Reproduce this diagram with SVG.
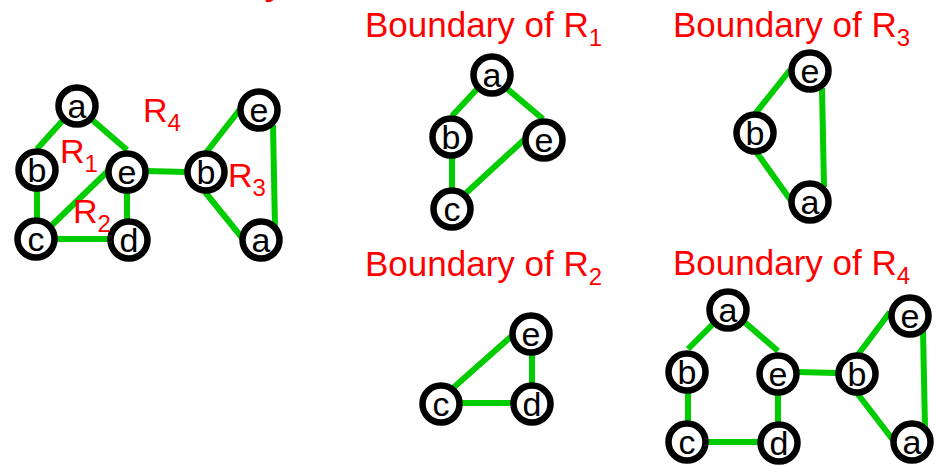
<svg xmlns="http://www.w3.org/2000/svg" width="940" height="466" viewBox="0 0 940 466">
<style>
.edge{stroke:#00cc00;stroke-width:6;fill:none;stroke-linecap:butt}
.node circle{fill:#ffffff;stroke:#000000;stroke-width:6.5}
.node text{font-family:"Liberation Sans",Arial,sans-serif;font-size:34px;fill:#000000;text-anchor:middle}
.lbl{font-family:"Liberation Sans",Arial,sans-serif;font-size:34px;fill:#ff0000}
.title{font-size:35px}
.sub{font-size:24px}
</style>
<rect width="940" height="466" fill="#ffffff"/>
<text class="lbl" x="264" y="-5" font-weight="bold">y</text>
<g id="connectors">
  <!-- main graph -->
  <line class="edge" x1="37" y1="149" x2="65" y2="118"/>
  <line class="edge" x1="90" y1="118" x2="127" y2="150"/>
  <line class="edge" x1="37" y1="188" x2="37" y2="221"/>
  <line class="edge" x1="50" y1="227" x2="109" y2="170"/>
  <line class="edge" x1="55" y1="239" x2="109" y2="239"/>
  <line class="edge" x1="127" y1="192" x2="127" y2="221"/>
  <line class="edge" x1="146" y1="171" x2="186" y2="172"/>
  <line class="edge" x1="205" y1="154" x2="241" y2="108"/>
  <line class="edge" x1="205" y1="192" x2="243" y2="239"/>
  <line class="edge" x1="273" y1="125" x2="275" y2="228"/>
  <!-- R1 -->
  <line class="edge" x1="478" y1="88" x2="452" y2="116"/>
  <line class="edge" x1="505" y1="87" x2="543" y2="119"/>
  <line class="edge" x1="452" y1="156" x2="452" y2="190"/>
  <line class="edge" x1="465" y1="194" x2="526" y2="138"/>
  <!-- R3 -->
  <line class="edge" x1="790" y1="70" x2="755" y2="114"/>
  <line class="edge" x1="757" y1="153" x2="792" y2="202"/>
  <line class="edge" x1="822" y1="88" x2="824" y2="187"/>
  <!-- R2 -->
  <line class="edge" x1="453" y1="388" x2="514" y2="334"/>
  <line class="edge" x1="460" y1="403" x2="512" y2="403"/>
  <line class="edge" x1="532" y1="354" x2="532" y2="384"/>
  <!-- R4 -->
  <line class="edge" x1="715" y1="322" x2="688" y2="349"/>
  <line class="edge" x1="742" y1="320" x2="778" y2="351"/>
  <line class="edge" x1="688" y1="390" x2="688" y2="423"/>
  <line class="edge" x1="778" y1="393" x2="778" y2="423"/>
  <line class="edge" x1="707" y1="442" x2="759" y2="442"/>
  <line class="edge" x1="797" y1="372" x2="836" y2="373"/>
  <line class="edge" x1="857" y1="356" x2="890" y2="312"/>
  <line class="edge" x1="857" y1="393" x2="893" y2="440"/>
  <line class="edge" x1="923" y1="330" x2="925" y2="428"/>
</g>
<!-- main graph nodes -->
<g id="m_a" class="node"><circle cx="77" cy="106" r="18.5"/><text x="77" y="118">a</text></g>
<g id="m_b" class="node"><circle cx="37" cy="170" r="18.5"/><text x="37" y="182">b</text></g>
<g id="m_e" class="node"><circle cx="127" cy="172" r="18.5"/><text x="127" y="184">e</text></g>
<g id="m_c" class="node"><circle cx="36" cy="239" r="18.5"/><text x="36" y="251">c</text></g>
<g id="m_d" class="node"><circle cx="129" cy="240" r="18.5"/><text x="129" y="252">d</text></g>
<g id="m_b2" class="node"><circle cx="206" cy="172" r="18.5"/><text x="206" y="184">b</text></g>
<g id="m_e2" class="node"><circle cx="259" cy="110" r="18.5"/><text x="259" y="122">e</text></g>
<g id="m_a2" class="node"><circle cx="261" cy="240" r="18.5"/><text x="261" y="252">a</text></g>
<!-- R1 boundary -->
<g id="r1_a" class="node"><circle cx="492" cy="75" r="18.5"/><text x="492" y="87">a</text></g>
<g id="r1_b" class="node"><circle cx="451" cy="137" r="18.5"/><text x="451" y="149">b</text></g>
<g id="r1_e" class="node"><circle cx="544" cy="140" r="18.5"/><text x="544" y="152">e</text></g>
<g id="r1_c" class="node"><circle cx="452" cy="209" r="18.5"/><text x="452" y="221">c</text></g>
<!-- R3 boundary -->
<g id="r3_e" class="node"><circle cx="810" cy="71" r="18.5"/><text x="810" y="83">e</text></g>
<g id="r3_b" class="node"><circle cx="755" cy="133" r="18.5"/><text x="755" y="145">b</text></g>
<g id="r3_a" class="node"><circle cx="810" cy="202" r="18.5"/><text x="810" y="214">a</text></g>
<!-- R2 boundary -->
<g id="r2_e" class="node"><circle cx="531" cy="334" r="18.5"/><text x="531" y="346">e</text></g>
<g id="r2_c" class="node"><circle cx="441" cy="404" r="18.5"/><text x="441" y="416">c</text></g>
<g id="r2_d" class="node"><circle cx="532" cy="404" r="18.5"/><text x="532" y="416">d</text></g>
<!-- R4 boundary -->
<g id="r4_a" class="node"><circle cx="728" cy="310" r="18.5"/><text x="728" y="322">a</text></g>
<g id="r4_b" class="node"><circle cx="687" cy="372" r="18.5"/><text x="687" y="384">b</text></g>
<g id="r4_e" class="node"><circle cx="778" cy="374" r="18.5"/><text x="778" y="386">e</text></g>
<g id="r4_c" class="node"><circle cx="687" cy="442" r="18.5"/><text x="687" y="454">c</text></g>
<g id="r4_d" class="node"><circle cx="779" cy="443" r="18.5"/><text x="779" y="455">d</text></g>
<g id="r4_b2" class="node"><circle cx="857" cy="374" r="18.5"/><text x="857" y="386">b</text></g>
<g id="r4_e2" class="node"><circle cx="910" cy="316" r="18.5"/><text x="910" y="328">e</text></g>
<g id="r4_a2" class="node"><circle cx="912" cy="442" r="18.5"/><text x="912" y="454">a</text></g>
<!-- region labels -->
<text class="lbl" x="60" y="163">R<tspan class="sub" dy="9">1</tspan></text>
<text class="lbl" x="73" y="223">R<tspan class="sub" dy="9">2</tspan></text>
<text class="lbl" x="228" y="187">R<tspan class="sub" dy="9">3</tspan></text>
<text class="lbl" x="143" y="122">R<tspan class="sub" dy="9">4</tspan></text>
<text class="lbl title" x="365" y="37">Boundary of R<tspan class="sub" dy="9">1</tspan></text>
<text class="lbl title" x="673" y="37">Boundary of R<tspan class="sub" dy="9">3</tspan></text>
<text class="lbl title" x="365" y="276">Boundary of R<tspan class="sub" dy="9">2</tspan></text>
<text class="lbl title" x="673" y="275">Boundary of R<tspan class="sub" dy="9">4</tspan></text>
</svg>
